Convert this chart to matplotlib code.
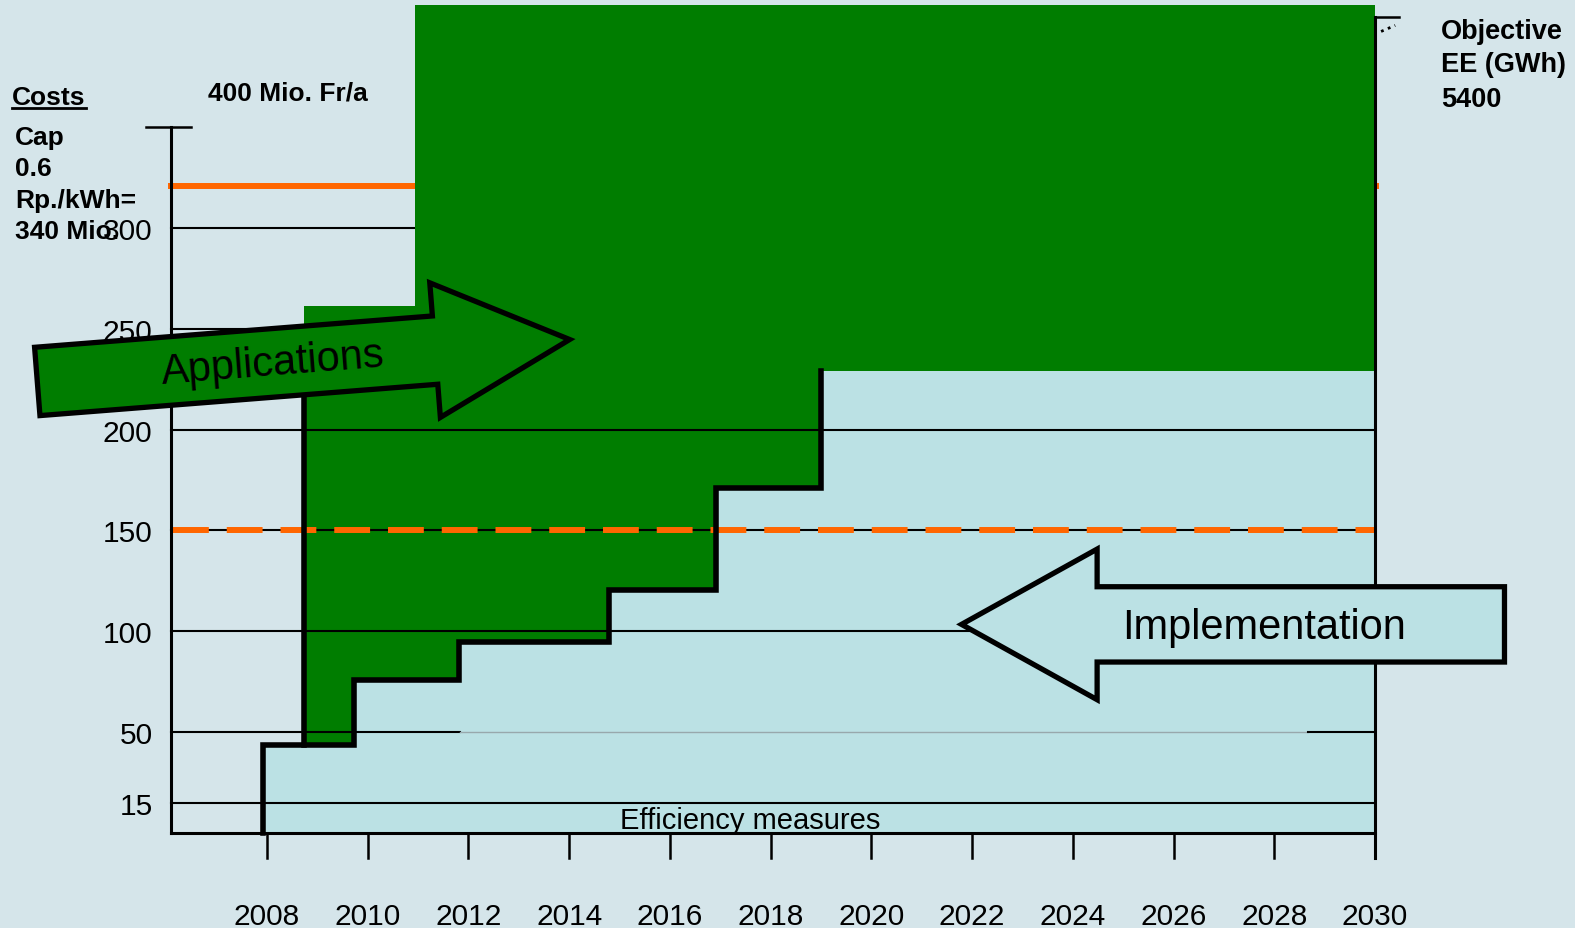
import numpy as np
import matplotlib
matplotlib.use("Agg")
import matplotlib.pyplot as plt

plt.rcParams['font.family'] = ['Liberation Sans', 'DejaVu Sans']

# colours
bg = '#d5e5ea'
lightblue = '#bbe1e4'
green = '#007d00'
orange = '#ff6600'

# data
years = [2008, 2010, 2012, 2014, 2016, 2018, 2020, 2022, 2024, 2026, 2028, 2030]
cost_ticks = [15, 50, 100, 150, 200, 250, 300]
cap_level = 321          # orange solid line ("340 Mio")
half_cap = 150           # orange dashed line

# efficiency measures step (light blue below, black outline)
step_x = [2007.92, 2009.72, 2011.81, 2014.80, 2016.92, 2019.00, 2030.0]
step_v = [43.5, 75.8, 94.7, 120.7, 171.0, 229.3]

# applications block (green, above the steps)
green_left = 2008.74
green_top_x = [2008.74, 2010.93]
green_top_v = [261.2, 410.6]

x_left_axis = 2006.09
y_axis_top = 350.3


def step_at(xs, edges, vals):
    idx = np.searchsorted(edges, xs, side='right') - 1
    idx = np.clip(idx, 0, len(vals) - 1)
    return np.asarray(vals)[idx]


fig = plt.figure(figsize=(15.75, 9.29), dpi=100, facecolor=bg)
ax = fig.add_axes([0, 0, 1, 1])
ax.set_facecolor(bg)
ax.set_xlim(2002.70, 2033.97)
ax.set_ylim(-47.2, 413.6)
ax.axis('off')

# grid lines that sit under the green block
for v in [250, 300]:
    ax.plot([x_left_axis, 2030], [v, v], color='black', lw=1.5, zorder=1)
ax.plot([x_left_axis, 2030.02], [cap_level, cap_level], color=orange, lw=4.3, zorder=1)

# light blue area
ax.fill_between(step_x, 0, step_v + [step_v[-1]], step='post', color=lightblue, lw=0, zorder=2)

# green area
xg = sorted(set([green_left] + [x for x in step_x if x > green_left] + green_top_x))
xg = np.array(xg)
lower = step_at(xg, step_x, step_v)
upper = step_at(xg, green_top_x, green_top_v)
ax.fill_between(xg, lower, upper, step='post', color=green, lw=0, zorder=2)

# grid lines on top of the fills
for v in [15, 100, 200]:
    ax.plot([x_left_axis, 2030], [v, v], color='black', lw=1.5, zorder=3)
ax.plot([x_left_axis, 2011.83], [50, 50], color='black', lw=1.5, zorder=3)
ax.plot([2011.83, 2028.67], [50, 50], color='#98a8ac', lw=1, zorder=3)
ax.plot([2028.67, 2030], [50, 50], color='black', lw=1.5, zorder=3)
ax.plot([x_left_axis, 2030], [half_cap, half_cap], color='black', lw=1.5, zorder=3)
ax.plot([x_left_axis + 0.04, 2030], [half_cap, half_cap], color=orange, lw=4.3,
        dashes=(6, 3), zorder=4)

# step outline
sx, sv = [step_x[0]], [0]
for i, v in enumerate(step_v):
    sx += [step_x[i], step_x[i + 1]]
    sv += [v, v]
sx, sv = sx[:-1] + [step_x[-2]], sv[:-1] + [step_v[-1]]
ax.plot(sx, sv, color='black', lw=4, solid_joinstyle='miter', zorder=5)
ax.plot([green_left, green_left], [step_v[0], 250], color='black', lw=4, zorder=5)

# axes frame
ax.plot([x_left_axis, x_left_axis], [0, y_axis_top], color='black', lw=2.2, zorder=5)
ax.plot([2005.59, 2006.49], [y_axis_top, y_axis_top], color='black', lw=1.8, zorder=5)
ax.plot([x_left_axis, 2030], [0, 0], color='black', lw=2.2, zorder=5)
ax.plot([2030, 2030], [-12.3, 404.7], color='black', lw=2.2, zorder=5)
ax.plot([2030, 2030.48], [404.7, 404.7], color='black', lw=1.8, zorder=5)
ax.plot([2030.12, 2030.4], [397.5, 400.5], color='black', lw=2, ls=':', zorder=5)

for yr in years:
    ax.plot([yr, yr], [0, -12.3], color='black', lw=1.8, zorder=5)
    ax.text(yr, -41, str(yr), ha='center', va='center', fontsize=21.5, zorder=7)

for v in cost_ticks:
    ax.text(2005.73, v - 1.5, str(v), ha='right', va='center', fontsize=21.5, zorder=7)

# arrows
ax.annotate('', xy=(2014.01, 244.7), xytext=(2003.44, 223.9),
            arrowprops=dict(arrowstyle='simple,head_length=1.35,head_width=1.35,tail_width=0.685',
                            mutation_scale=72, shrinkA=0, shrinkB=0,
                            fc=green, ec='black', lw=3.8, joinstyle='miter'),
            zorder=6)
ax.text(2008.12, 233.0, 'Applications', ha='center', va='center', fontsize=30,
        rotation=4.5, rotation_mode='anchor', zorder=7)

ax.annotate('', xy=(2021.79, 103.4), xytext=(2032.57, 103.4),
            arrowprops=dict(arrowstyle='simple,head_length=1.356,head_width=1.506,tail_width=0.753',
                            mutation_scale=72, shrinkA=0, shrinkB=0,
                            fc=lightblue, ec='black', lw=3.8, joinstyle='miter'),
            zorder=6)
ax.text(2027.79, 102.2, 'Implementation', ha='center', va='center', fontsize=30, zorder=7)

# labels
ax.text(2017.59, 6.2, 'Efficiency measures', ha='center', va='center', fontsize=21, zorder=7)

costs = ax.text(2002.94, 364.8, 'Costs', ha='left', va='center', fontsize=19,
                fontweight='bold', zorder=7)
cap_lines = ['Cap', '0.6', 'Rp./kWh=', '340 Mio.']
cap_v = [345.3, 329.9, 313.9, 298.4]
for s, v in zip(cap_lines, cap_v):
    ax.text(2003.0, v, s, ha='left', va='center', fontsize=19, fontweight='bold', zorder=7)

ax.text(2006.82, 367.3, '400 Mio. Fr/a', ha='left', va='center', fontsize=19,
        fontweight='bold', zorder=7)

obj_lines = ['Objective', 'EE (GWh)', '5400']
obj_v = [397.8, 381.2, 363.8]
for s, v in zip(obj_lines, obj_v):
    ax.text(2031.31, v, s, ha='left', va='center', fontsize=19.5, fontweight='bold', zorder=7)

# underline for "Costs"
fig.canvas.draw()
bb = costs.get_window_extent().transformed(ax.transData.inverted())
ax.plot([bb.x0, bb.x1], [bb.y0 + 0.5, bb.y0 + 0.5], color='black', lw=2, zorder=7)

fig.savefig('out.png', dpi=100, facecolor=bg)
